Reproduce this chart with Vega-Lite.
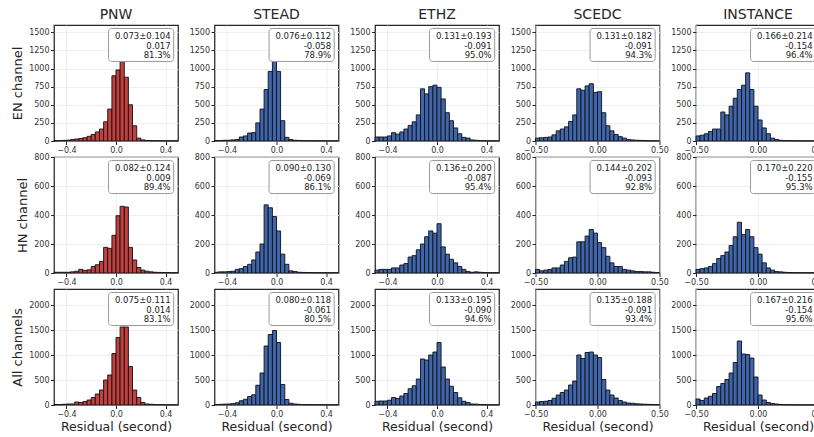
{
"$schema": "https://vega.github.io/schema/vega-lite/v6.json",
"padding": {"left": 11, "top": 7, "right": 0, "bottom": 2},
"bounds": "flush",
"columns": 5,
"spacing": {"row": 16, "column": 36.5},
"config": {
 "font": "DejaVu Sans",
 "view": {"stroke": "#262626", "strokeWidth": 1.25},
 "axis": {"domain": false, "grid": true, "gridColor": "#ebebeb", "gridWidth": 0.8, "tickColor": "#262626", "tickSize": 3.5, "tickWidth": 1, "labelFontSize": 8, "labelColor": "#333333", "labelPadding": 1.5, "titleFontSize": 13, "titleFontWeight": "normal", "titleColor": "#262626", "labelFlush": false, "labelOverlap": false},
 "axisY": {"titlePadding": 4},
 "axisX": {"titlePadding": 2, "titleFontSize": 12.5},
 "title": {"fontSize": 14, "fontWeight": "normal", "offset": 3, "color": "#262626"},
 "text": {"color": "#222222"}
},
"datasets": {
"s": [
{"d":"PNW","r":"EN","t":["0.073±0.104","0.017","81.3%"]},
{"d":"PNW","r":"HN","t":["0.082±0.124","0.009","89.4%"]},
{"d":"PNW","r":"All","t":["0.075±0.111","0.014","83.1%"]},
{"d":"STEAD","r":"EN","t":["0.076±0.112","-0.058","78.9%"]},
{"d":"STEAD","r":"HN","t":["0.090±0.130","-0.069","86.1%"]},
{"d":"STEAD","r":"All","t":["0.080±0.118","-0.061","80.5%"]},
{"d":"ETHZ","r":"EN","t":["0.131±0.193","-0.091","95.0%"]},
{"d":"ETHZ","r":"HN","t":["0.136±0.200","-0.087","95.4%"]},
{"d":"ETHZ","r":"All","t":["0.133±0.195","-0.090","94.6%"]},
{"d":"SCEDC","r":"EN","t":["0.131±0.182","-0.091","94.3%"]},
{"d":"SCEDC","r":"HN","t":["0.144±0.202","-0.093","92.8%"]},
{"d":"SCEDC","r":"All","t":["0.135±0.188","-0.091","93.4%"]},
{"d":"INSTANCE","r":"EN","t":["0.166±0.214","-0.154","96.4%"]},
{"d":"INSTANCE","r":"HN","t":["0.170±0.220","-0.155","95.3%"]},
{"d":"INSTANCE","r":"All","t":["0.167±0.216","-0.154","95.6%"]}
],
"h": [
{"d":"PNW","r":"EN","a":-0.5,"b":-0.467,"n":3},
{"d":"PNW","r":"EN","a":-0.467,"b":-0.433,"n":5},
{"d":"PNW","r":"EN","a":-0.433,"b":-0.4,"n":8},
{"d":"PNW","r":"EN","a":-0.4,"b":-0.367,"n":12},
{"d":"PNW","r":"EN","a":-0.367,"b":-0.333,"n":20},
{"d":"PNW","r":"EN","a":-0.333,"b":-0.3,"n":28},
{"d":"PNW","r":"EN","a":-0.3,"b":-0.267,"n":35},
{"d":"PNW","r":"EN","a":-0.267,"b":-0.233,"n":45},
{"d":"PNW","r":"EN","a":-0.233,"b":-0.2,"n":65},
{"d":"PNW","r":"EN","a":-0.2,"b":-0.167,"n":90},
{"d":"PNW","r":"EN","a":-0.167,"b":-0.133,"n":125},
{"d":"PNW","r":"EN","a":-0.133,"b":-0.1,"n":165},
{"d":"PNW","r":"EN","a":-0.1,"b":-0.067,"n":265},
{"d":"PNW","r":"EN","a":-0.067,"b":-0.033,"n":440},
{"d":"PNW","r":"EN","a":-0.033,"b":0,"n":900},
{"d":"PNW","r":"EN","a":0,"b":0.033,"n":980},
{"d":"PNW","r":"EN","a":0.033,"b":0.067,"n":1100},
{"d":"PNW","r":"EN","a":0.067,"b":0.1,"n":880},
{"d":"PNW","r":"EN","a":0.1,"b":0.133,"n":500},
{"d":"PNW","r":"EN","a":0.133,"b":0.167,"n":210},
{"d":"PNW","r":"EN","a":0.167,"b":0.2,"n":40},
{"d":"PNW","r":"EN","a":0.2,"b":0.233,"n":15},
{"d":"PNW","r":"EN","a":0.233,"b":0.267,"n":8},
{"d":"PNW","r":"EN","a":0.267,"b":0.3,"n":5},
{"d":"PNW","r":"EN","a":0.3,"b":0.333,"n":4},
{"d":"PNW","r":"EN","a":0.333,"b":0.367,"n":3},
{"d":"PNW","r":"EN","a":0.367,"b":0.4,"n":3},
{"d":"PNW","r":"EN","a":0.4,"b":0.433,"n":2},
{"d":"PNW","r":"EN","a":0.433,"b":0.467,"n":2},
{"d":"PNW","r":"EN","a":0.467,"b":0.5,"n":2},
{"d":"PNW","r":"HN","a":-0.5,"b":-0.467,"n":5},
{"d":"PNW","r":"HN","a":-0.467,"b":-0.433,"n":5},
{"d":"PNW","r":"HN","a":-0.433,"b":-0.4,"n":5},
{"d":"PNW","r":"HN","a":-0.4,"b":-0.367,"n":5},
{"d":"PNW","r":"HN","a":-0.367,"b":-0.333,"n":8},
{"d":"PNW","r":"HN","a":-0.333,"b":-0.3,"n":12},
{"d":"PNW","r":"HN","a":-0.3,"b":-0.267,"n":25},
{"d":"PNW","r":"HN","a":-0.267,"b":-0.233,"n":18},
{"d":"PNW","r":"HN","a":-0.233,"b":-0.2,"n":22},
{"d":"PNW","r":"HN","a":-0.2,"b":-0.167,"n":45},
{"d":"PNW","r":"HN","a":-0.167,"b":-0.133,"n":57},
{"d":"PNW","r":"HN","a":-0.133,"b":-0.1,"n":80},
{"d":"PNW","r":"HN","a":-0.1,"b":-0.067,"n":177},
{"d":"PNW","r":"HN","a":-0.067,"b":-0.033,"n":170},
{"d":"PNW","r":"HN","a":-0.033,"b":0,"n":260},
{"d":"PNW","r":"HN","a":0,"b":0.033,"n":395},
{"d":"PNW","r":"HN","a":0.033,"b":0.067,"n":460},
{"d":"PNW","r":"HN","a":0.067,"b":0.1,"n":455},
{"d":"PNW","r":"HN","a":0.1,"b":0.133,"n":177},
{"d":"PNW","r":"HN","a":0.133,"b":0.167,"n":90},
{"d":"PNW","r":"HN","a":0.167,"b":0.2,"n":38},
{"d":"PNW","r":"HN","a":0.2,"b":0.233,"n":20},
{"d":"PNW","r":"HN","a":0.233,"b":0.267,"n":12},
{"d":"PNW","r":"HN","a":0.267,"b":0.3,"n":8},
{"d":"PNW","r":"HN","a":0.3,"b":0.333,"n":5},
{"d":"PNW","r":"HN","a":0.333,"b":0.367,"n":4},
{"d":"PNW","r":"HN","a":0.367,"b":0.4,"n":3},
{"d":"PNW","r":"HN","a":0.4,"b":0.433,"n":3},
{"d":"PNW","r":"HN","a":0.433,"b":0.467,"n":2},
{"d":"PNW","r":"HN","a":0.467,"b":0.5,"n":2},
{"d":"PNW","r":"All","a":-0.5,"b":-0.467,"n":10},
{"d":"PNW","r":"All","a":-0.467,"b":-0.433,"n":10},
{"d":"PNW","r":"All","a":-0.433,"b":-0.4,"n":15},
{"d":"PNW","r":"All","a":-0.4,"b":-0.367,"n":20},
{"d":"PNW","r":"All","a":-0.367,"b":-0.333,"n":20},
{"d":"PNW","r":"All","a":-0.333,"b":-0.3,"n":60},
{"d":"PNW","r":"All","a":-0.3,"b":-0.267,"n":50},
{"d":"PNW","r":"All","a":-0.267,"b":-0.233,"n":70},
{"d":"PNW","r":"All","a":-0.233,"b":-0.2,"n":100},
{"d":"PNW","r":"All","a":-0.2,"b":-0.167,"n":150},
{"d":"PNW","r":"All","a":-0.167,"b":-0.133,"n":220},
{"d":"PNW","r":"All","a":-0.133,"b":-0.1,"n":300},
{"d":"PNW","r":"All","a":-0.1,"b":-0.067,"n":500},
{"d":"PNW","r":"All","a":-0.067,"b":-0.033,"n":600},
{"d":"PNW","r":"All","a":-0.033,"b":0,"n":1030},
{"d":"PNW","r":"All","a":0,"b":0.033,"n":1350},
{"d":"PNW","r":"All","a":0.033,"b":0.067,"n":1560},
{"d":"PNW","r":"All","a":0.067,"b":0.1,"n":1560},
{"d":"PNW","r":"All","a":0.1,"b":0.133,"n":770},
{"d":"PNW","r":"All","a":0.133,"b":0.167,"n":300},
{"d":"PNW","r":"All","a":0.167,"b":0.2,"n":150},
{"d":"PNW","r":"All","a":0.2,"b":0.233,"n":50},
{"d":"PNW","r":"All","a":0.233,"b":0.267,"n":20},
{"d":"PNW","r":"All","a":0.267,"b":0.3,"n":15},
{"d":"PNW","r":"All","a":0.3,"b":0.333,"n":10},
{"d":"PNW","r":"All","a":0.333,"b":0.367,"n":8},
{"d":"PNW","r":"All","a":0.367,"b":0.4,"n":6},
{"d":"PNW","r":"All","a":0.4,"b":0.433,"n":5},
{"d":"PNW","r":"All","a":0.433,"b":0.467,"n":4},
{"d":"PNW","r":"All","a":0.467,"b":0.5,"n":4},
{"d":"STEAD","r":"EN","a":-0.5,"b":-0.467,"n":5},
{"d":"STEAD","r":"EN","a":-0.467,"b":-0.433,"n":5},
{"d":"STEAD","r":"EN","a":-0.433,"b":-0.4,"n":10},
{"d":"STEAD","r":"EN","a":-0.4,"b":-0.367,"n":10},
{"d":"STEAD","r":"EN","a":-0.367,"b":-0.333,"n":15},
{"d":"STEAD","r":"EN","a":-0.333,"b":-0.3,"n":20},
{"d":"STEAD","r":"EN","a":-0.3,"b":-0.267,"n":55},
{"d":"STEAD","r":"EN","a":-0.267,"b":-0.233,"n":70},
{"d":"STEAD","r":"EN","a":-0.233,"b":-0.2,"n":110},
{"d":"STEAD","r":"EN","a":-0.2,"b":-0.167,"n":115},
{"d":"STEAD","r":"EN","a":-0.167,"b":-0.133,"n":250},
{"d":"STEAD","r":"EN","a":-0.133,"b":-0.1,"n":440},
{"d":"STEAD","r":"EN","a":-0.1,"b":-0.067,"n":710},
{"d":"STEAD","r":"EN","a":-0.067,"b":-0.033,"n":960},
{"d":"STEAD","r":"EN","a":-0.033,"b":0,"n":1100},
{"d":"STEAD","r":"EN","a":0,"b":0.033,"n":960},
{"d":"STEAD","r":"EN","a":0.033,"b":0.067,"n":280},
{"d":"STEAD","r":"EN","a":0.067,"b":0.1,"n":50},
{"d":"STEAD","r":"EN","a":0.1,"b":0.133,"n":20},
{"d":"STEAD","r":"EN","a":0.133,"b":0.167,"n":10},
{"d":"STEAD","r":"EN","a":0.167,"b":0.2,"n":8},
{"d":"STEAD","r":"EN","a":0.2,"b":0.233,"n":5},
{"d":"STEAD","r":"EN","a":0.233,"b":0.267,"n":4},
{"d":"STEAD","r":"EN","a":0.267,"b":0.3,"n":3},
{"d":"STEAD","r":"EN","a":0.3,"b":0.333,"n":3},
{"d":"STEAD","r":"EN","a":0.333,"b":0.367,"n":2},
{"d":"STEAD","r":"EN","a":0.367,"b":0.4,"n":2},
{"d":"STEAD","r":"EN","a":0.4,"b":0.433,"n":2},
{"d":"STEAD","r":"EN","a":0.433,"b":0.467,"n":2},
{"d":"STEAD","r":"EN","a":0.467,"b":0.5,"n":2},
{"d":"STEAD","r":"HN","a":-0.5,"b":-0.467,"n":5},
{"d":"STEAD","r":"HN","a":-0.467,"b":-0.433,"n":8},
{"d":"STEAD","r":"HN","a":-0.433,"b":-0.4,"n":8},
{"d":"STEAD","r":"HN","a":-0.4,"b":-0.367,"n":10},
{"d":"STEAD","r":"HN","a":-0.367,"b":-0.333,"n":12},
{"d":"STEAD","r":"HN","a":-0.333,"b":-0.3,"n":25},
{"d":"STEAD","r":"HN","a":-0.3,"b":-0.267,"n":30},
{"d":"STEAD","r":"HN","a":-0.267,"b":-0.233,"n":45},
{"d":"STEAD","r":"HN","a":-0.233,"b":-0.2,"n":60},
{"d":"STEAD","r":"HN","a":-0.2,"b":-0.167,"n":90},
{"d":"STEAD","r":"HN","a":-0.167,"b":-0.133,"n":145},
{"d":"STEAD","r":"HN","a":-0.133,"b":-0.1,"n":200},
{"d":"STEAD","r":"HN","a":-0.1,"b":-0.067,"n":470},
{"d":"STEAD","r":"HN","a":-0.067,"b":-0.033,"n":450},
{"d":"STEAD","r":"HN","a":-0.033,"b":0,"n":390},
{"d":"STEAD","r":"HN","a":0,"b":0.033,"n":290},
{"d":"STEAD","r":"HN","a":0.033,"b":0.067,"n":130},
{"d":"STEAD","r":"HN","a":0.067,"b":0.1,"n":60},
{"d":"STEAD","r":"HN","a":0.1,"b":0.133,"n":15},
{"d":"STEAD","r":"HN","a":0.133,"b":0.167,"n":10},
{"d":"STEAD","r":"HN","a":0.167,"b":0.2,"n":5},
{"d":"STEAD","r":"HN","a":0.2,"b":0.233,"n":4},
{"d":"STEAD","r":"HN","a":0.233,"b":0.267,"n":3},
{"d":"STEAD","r":"HN","a":0.267,"b":0.3,"n":3},
{"d":"STEAD","r":"HN","a":0.3,"b":0.333,"n":2},
{"d":"STEAD","r":"HN","a":0.333,"b":0.367,"n":2},
{"d":"STEAD","r":"HN","a":0.367,"b":0.4,"n":2},
{"d":"STEAD","r":"HN","a":0.4,"b":0.433,"n":2},
{"d":"STEAD","r":"HN","a":0.433,"b":0.467,"n":2},
{"d":"STEAD","r":"HN","a":0.467,"b":0.5,"n":2},
{"d":"STEAD","r":"All","a":-0.5,"b":-0.467,"n":10},
{"d":"STEAD","r":"All","a":-0.467,"b":-0.433,"n":13},
{"d":"STEAD","r":"All","a":-0.433,"b":-0.4,"n":18},
{"d":"STEAD","r":"All","a":-0.4,"b":-0.367,"n":20},
{"d":"STEAD","r":"All","a":-0.367,"b":-0.333,"n":27},
{"d":"STEAD","r":"All","a":-0.333,"b":-0.3,"n":45},
{"d":"STEAD","r":"All","a":-0.3,"b":-0.267,"n":85},
{"d":"STEAD","r":"All","a":-0.267,"b":-0.233,"n":115},
{"d":"STEAD","r":"All","a":-0.233,"b":-0.2,"n":170},
{"d":"STEAD","r":"All","a":-0.2,"b":-0.167,"n":205},
{"d":"STEAD","r":"All","a":-0.167,"b":-0.133,"n":395},
{"d":"STEAD","r":"All","a":-0.133,"b":-0.1,"n":640},
{"d":"STEAD","r":"All","a":-0.1,"b":-0.067,"n":1180},
{"d":"STEAD","r":"All","a":-0.067,"b":-0.033,"n":1410},
{"d":"STEAD","r":"All","a":-0.033,"b":0,"n":1490},
{"d":"STEAD","r":"All","a":0,"b":0.033,"n":1250},
{"d":"STEAD","r":"All","a":0.033,"b":0.067,"n":410},
{"d":"STEAD","r":"All","a":0.067,"b":0.1,"n":110},
{"d":"STEAD","r":"All","a":0.1,"b":0.133,"n":35},
{"d":"STEAD","r":"All","a":0.133,"b":0.167,"n":20},
{"d":"STEAD","r":"All","a":0.167,"b":0.2,"n":13},
{"d":"STEAD","r":"All","a":0.2,"b":0.233,"n":9},
{"d":"STEAD","r":"All","a":0.233,"b":0.267,"n":7},
{"d":"STEAD","r":"All","a":0.267,"b":0.3,"n":6},
{"d":"STEAD","r":"All","a":0.3,"b":0.333,"n":5},
{"d":"STEAD","r":"All","a":0.333,"b":0.367,"n":4},
{"d":"STEAD","r":"All","a":0.367,"b":0.4,"n":4},
{"d":"STEAD","r":"All","a":0.4,"b":0.433,"n":4},
{"d":"STEAD","r":"All","a":0.433,"b":0.467,"n":4},
{"d":"STEAD","r":"All","a":0.467,"b":0.5,"n":4},
{"d":"ETHZ","r":"EN","a":-0.5,"b":-0.467,"n":55},
{"d":"ETHZ","r":"EN","a":-0.467,"b":-0.433,"n":55},
{"d":"ETHZ","r":"EN","a":-0.433,"b":-0.4,"n":55},
{"d":"ETHZ","r":"EN","a":-0.4,"b":-0.367,"n":70},
{"d":"ETHZ","r":"EN","a":-0.367,"b":-0.333,"n":115},
{"d":"ETHZ","r":"EN","a":-0.333,"b":-0.3,"n":95},
{"d":"ETHZ","r":"EN","a":-0.3,"b":-0.267,"n":125},
{"d":"ETHZ","r":"EN","a":-0.267,"b":-0.233,"n":165},
{"d":"ETHZ","r":"EN","a":-0.233,"b":-0.2,"n":215},
{"d":"ETHZ","r":"EN","a":-0.2,"b":-0.167,"n":265},
{"d":"ETHZ","r":"EN","a":-0.167,"b":-0.133,"n":360},
{"d":"ETHZ","r":"EN","a":-0.133,"b":-0.1,"n":720},
{"d":"ETHZ","r":"EN","a":-0.1,"b":-0.067,"n":650},
{"d":"ETHZ","r":"EN","a":-0.067,"b":-0.033,"n":750},
{"d":"ETHZ","r":"EN","a":-0.033,"b":0,"n":770},
{"d":"ETHZ","r":"EN","a":0,"b":0.033,"n":740},
{"d":"ETHZ","r":"EN","a":0.033,"b":0.067,"n":580},
{"d":"ETHZ","r":"EN","a":0.067,"b":0.1,"n":390},
{"d":"ETHZ","r":"EN","a":0.1,"b":0.133,"n":280},
{"d":"ETHZ","r":"EN","a":0.133,"b":0.167,"n":180},
{"d":"ETHZ","r":"EN","a":0.167,"b":0.2,"n":100},
{"d":"ETHZ","r":"EN","a":0.2,"b":0.233,"n":50},
{"d":"ETHZ","r":"EN","a":0.233,"b":0.267,"n":40},
{"d":"ETHZ","r":"EN","a":0.267,"b":0.3,"n":15},
{"d":"ETHZ","r":"EN","a":0.3,"b":0.333,"n":10},
{"d":"ETHZ","r":"EN","a":0.333,"b":0.367,"n":5},
{"d":"ETHZ","r":"EN","a":0.367,"b":0.4,"n":3},
{"d":"ETHZ","r":"EN","a":0.4,"b":0.433,"n":2},
{"d":"ETHZ","r":"EN","a":0.433,"b":0.467,"n":2},
{"d":"ETHZ","r":"EN","a":0.467,"b":0.5,"n":2},
{"d":"ETHZ","r":"HN","a":-0.5,"b":-0.467,"n":20},
{"d":"ETHZ","r":"HN","a":-0.467,"b":-0.433,"n":25},
{"d":"ETHZ","r":"HN","a":-0.433,"b":-0.4,"n":25},
{"d":"ETHZ","r":"HN","a":-0.4,"b":-0.367,"n":25},
{"d":"ETHZ","r":"HN","a":-0.367,"b":-0.333,"n":35},
{"d":"ETHZ","r":"HN","a":-0.333,"b":-0.3,"n":35},
{"d":"ETHZ","r":"HN","a":-0.3,"b":-0.267,"n":55},
{"d":"ETHZ","r":"HN","a":-0.267,"b":-0.233,"n":65},
{"d":"ETHZ","r":"HN","a":-0.233,"b":-0.2,"n":110},
{"d":"ETHZ","r":"HN","a":-0.2,"b":-0.167,"n":120},
{"d":"ETHZ","r":"HN","a":-0.167,"b":-0.133,"n":160},
{"d":"ETHZ","r":"HN","a":-0.133,"b":-0.1,"n":200},
{"d":"ETHZ","r":"HN","a":-0.1,"b":-0.067,"n":250},
{"d":"ETHZ","r":"HN","a":-0.067,"b":-0.033,"n":290},
{"d":"ETHZ","r":"HN","a":-0.033,"b":0,"n":275},
{"d":"ETHZ","r":"HN","a":0,"b":0.033,"n":340},
{"d":"ETHZ","r":"HN","a":0.033,"b":0.067,"n":180},
{"d":"ETHZ","r":"HN","a":0.067,"b":0.1,"n":130},
{"d":"ETHZ","r":"HN","a":0.1,"b":0.133,"n":95},
{"d":"ETHZ","r":"HN","a":0.133,"b":0.167,"n":70},
{"d":"ETHZ","r":"HN","a":0.167,"b":0.2,"n":45},
{"d":"ETHZ","r":"HN","a":0.2,"b":0.233,"n":25},
{"d":"ETHZ","r":"HN","a":0.233,"b":0.267,"n":10},
{"d":"ETHZ","r":"HN","a":0.267,"b":0.3,"n":5},
{"d":"ETHZ","r":"HN","a":0.3,"b":0.333,"n":8},
{"d":"ETHZ","r":"HN","a":0.333,"b":0.367,"n":5},
{"d":"ETHZ","r":"HN","a":0.367,"b":0.4,"n":3},
{"d":"ETHZ","r":"HN","a":0.4,"b":0.433,"n":2},
{"d":"ETHZ","r":"HN","a":0.433,"b":0.467,"n":2},
{"d":"ETHZ","r":"HN","a":0.467,"b":0.5,"n":2},
{"d":"ETHZ","r":"All","a":-0.5,"b":-0.467,"n":75},
{"d":"ETHZ","r":"All","a":-0.467,"b":-0.433,"n":80},
{"d":"ETHZ","r":"All","a":-0.433,"b":-0.4,"n":80},
{"d":"ETHZ","r":"All","a":-0.4,"b":-0.367,"n":95},
{"d":"ETHZ","r":"All","a":-0.367,"b":-0.333,"n":150},
{"d":"ETHZ","r":"All","a":-0.333,"b":-0.3,"n":130},
{"d":"ETHZ","r":"All","a":-0.3,"b":-0.267,"n":180},
{"d":"ETHZ","r":"All","a":-0.267,"b":-0.233,"n":230},
{"d":"ETHZ","r":"All","a":-0.233,"b":-0.2,"n":325},
{"d":"ETHZ","r":"All","a":-0.2,"b":-0.167,"n":385},
{"d":"ETHZ","r":"All","a":-0.167,"b":-0.133,"n":520},
{"d":"ETHZ","r":"All","a":-0.133,"b":-0.1,"n":920},
{"d":"ETHZ","r":"All","a":-0.1,"b":-0.067,"n":900},
{"d":"ETHZ","r":"All","a":-0.067,"b":-0.033,"n":1000},
{"d":"ETHZ","r":"All","a":-0.033,"b":0,"n":1060},
{"d":"ETHZ","r":"All","a":0,"b":0.033,"n":1250},
{"d":"ETHZ","r":"All","a":0.033,"b":0.067,"n":760},
{"d":"ETHZ","r":"All","a":0.067,"b":0.1,"n":520},
{"d":"ETHZ","r":"All","a":0.1,"b":0.133,"n":375},
{"d":"ETHZ","r":"All","a":0.133,"b":0.167,"n":250},
{"d":"ETHZ","r":"All","a":0.167,"b":0.2,"n":145},
{"d":"ETHZ","r":"All","a":0.2,"b":0.233,"n":75},
{"d":"ETHZ","r":"All","a":0.233,"b":0.267,"n":50},
{"d":"ETHZ","r":"All","a":0.267,"b":0.3,"n":20},
{"d":"ETHZ","r":"All","a":0.3,"b":0.333,"n":18},
{"d":"ETHZ","r":"All","a":0.333,"b":0.367,"n":10},
{"d":"ETHZ","r":"All","a":0.367,"b":0.4,"n":6},
{"d":"ETHZ","r":"All","a":0.4,"b":0.433,"n":4},
{"d":"ETHZ","r":"All","a":0.433,"b":0.467,"n":4},
{"d":"ETHZ","r":"All","a":0.467,"b":0.5,"n":4},
{"d":"SCEDC","r":"EN","a":-0.5,"b":-0.467,"n":40},
{"d":"SCEDC","r":"EN","a":-0.467,"b":-0.433,"n":45},
{"d":"SCEDC","r":"EN","a":-0.433,"b":-0.4,"n":50},
{"d":"SCEDC","r":"EN","a":-0.4,"b":-0.367,"n":55},
{"d":"SCEDC","r":"EN","a":-0.367,"b":-0.333,"n":85},
{"d":"SCEDC","r":"EN","a":-0.333,"b":-0.3,"n":140},
{"d":"SCEDC","r":"EN","a":-0.3,"b":-0.267,"n":165},
{"d":"SCEDC","r":"EN","a":-0.267,"b":-0.233,"n":195},
{"d":"SCEDC","r":"EN","a":-0.233,"b":-0.2,"n":270},
{"d":"SCEDC","r":"EN","a":-0.2,"b":-0.167,"n":360},
{"d":"SCEDC","r":"EN","a":-0.167,"b":-0.133,"n":720},
{"d":"SCEDC","r":"EN","a":-0.133,"b":-0.1,"n":700},
{"d":"SCEDC","r":"EN","a":-0.1,"b":-0.067,"n":760},
{"d":"SCEDC","r":"EN","a":-0.067,"b":-0.033,"n":790},
{"d":"SCEDC","r":"EN","a":-0.033,"b":0,"n":670},
{"d":"SCEDC","r":"EN","a":0,"b":0.033,"n":680},
{"d":"SCEDC","r":"EN","a":0.033,"b":0.067,"n":390},
{"d":"SCEDC","r":"EN","a":0.067,"b":0.1,"n":210},
{"d":"SCEDC","r":"EN","a":0.1,"b":0.133,"n":140},
{"d":"SCEDC","r":"EN","a":0.133,"b":0.167,"n":90},
{"d":"SCEDC","r":"EN","a":0.167,"b":0.2,"n":60},
{"d":"SCEDC","r":"EN","a":0.2,"b":0.233,"n":40},
{"d":"SCEDC","r":"EN","a":0.233,"b":0.267,"n":20},
{"d":"SCEDC","r":"EN","a":0.267,"b":0.3,"n":15},
{"d":"SCEDC","r":"EN","a":0.3,"b":0.333,"n":10},
{"d":"SCEDC","r":"EN","a":0.333,"b":0.367,"n":8},
{"d":"SCEDC","r":"EN","a":0.367,"b":0.4,"n":5},
{"d":"SCEDC","r":"EN","a":0.4,"b":0.433,"n":3},
{"d":"SCEDC","r":"EN","a":0.433,"b":0.467,"n":2},
{"d":"SCEDC","r":"EN","a":0.467,"b":0.5,"n":2},
{"d":"SCEDC","r":"HN","a":-0.5,"b":-0.467,"n":25},
{"d":"SCEDC","r":"HN","a":-0.467,"b":-0.433,"n":15},
{"d":"SCEDC","r":"HN","a":-0.433,"b":-0.4,"n":20},
{"d":"SCEDC","r":"HN","a":-0.4,"b":-0.367,"n":25},
{"d":"SCEDC","r":"HN","a":-0.367,"b":-0.333,"n":35},
{"d":"SCEDC","r":"HN","a":-0.333,"b":-0.3,"n":35},
{"d":"SCEDC","r":"HN","a":-0.3,"b":-0.267,"n":55},
{"d":"SCEDC","r":"HN","a":-0.267,"b":-0.233,"n":80},
{"d":"SCEDC","r":"HN","a":-0.233,"b":-0.2,"n":105},
{"d":"SCEDC","r":"HN","a":-0.2,"b":-0.167,"n":110},
{"d":"SCEDC","r":"HN","a":-0.167,"b":-0.133,"n":215},
{"d":"SCEDC","r":"HN","a":-0.133,"b":-0.1,"n":215},
{"d":"SCEDC","r":"HN","a":-0.1,"b":-0.067,"n":255},
{"d":"SCEDC","r":"HN","a":-0.067,"b":-0.033,"n":300},
{"d":"SCEDC","r":"HN","a":-0.033,"b":0,"n":275},
{"d":"SCEDC","r":"HN","a":0,"b":0.033,"n":210},
{"d":"SCEDC","r":"HN","a":0.033,"b":0.067,"n":175},
{"d":"SCEDC","r":"HN","a":0.067,"b":0.1,"n":115},
{"d":"SCEDC","r":"HN","a":0.1,"b":0.133,"n":70},
{"d":"SCEDC","r":"HN","a":0.133,"b":0.167,"n":45},
{"d":"SCEDC","r":"HN","a":0.167,"b":0.2,"n":45},
{"d":"SCEDC","r":"HN","a":0.2,"b":0.233,"n":25},
{"d":"SCEDC","r":"HN","a":0.233,"b":0.267,"n":20},
{"d":"SCEDC","r":"HN","a":0.267,"b":0.3,"n":15},
{"d":"SCEDC","r":"HN","a":0.3,"b":0.333,"n":10},
{"d":"SCEDC","r":"HN","a":0.333,"b":0.367,"n":10},
{"d":"SCEDC","r":"HN","a":0.367,"b":0.4,"n":8},
{"d":"SCEDC","r":"HN","a":0.4,"b":0.433,"n":8},
{"d":"SCEDC","r":"HN","a":0.433,"b":0.467,"n":5},
{"d":"SCEDC","r":"HN","a":0.467,"b":0.5,"n":3},
{"d":"SCEDC","r":"All","a":-0.5,"b":-0.467,"n":60},
{"d":"SCEDC","r":"All","a":-0.467,"b":-0.433,"n":70},
{"d":"SCEDC","r":"All","a":-0.433,"b":-0.4,"n":75},
{"d":"SCEDC","r":"All","a":-0.4,"b":-0.367,"n":90},
{"d":"SCEDC","r":"All","a":-0.367,"b":-0.333,"n":135},
{"d":"SCEDC","r":"All","a":-0.333,"b":-0.3,"n":200},
{"d":"SCEDC","r":"All","a":-0.3,"b":-0.267,"n":250},
{"d":"SCEDC","r":"All","a":-0.267,"b":-0.233,"n":300},
{"d":"SCEDC","r":"All","a":-0.233,"b":-0.2,"n":400},
{"d":"SCEDC","r":"All","a":-0.2,"b":-0.167,"n":480},
{"d":"SCEDC","r":"All","a":-0.167,"b":-0.133,"n":1000},
{"d":"SCEDC","r":"All","a":-0.133,"b":-0.1,"n":930},
{"d":"SCEDC","r":"All","a":-0.1,"b":-0.067,"n":1050},
{"d":"SCEDC","r":"All","a":-0.067,"b":-0.033,"n":1060},
{"d":"SCEDC","r":"All","a":-0.033,"b":0,"n":1000},
{"d":"SCEDC","r":"All","a":0,"b":0.033,"n":950},
{"d":"SCEDC","r":"All","a":0.033,"b":0.067,"n":510},
{"d":"SCEDC","r":"All","a":0.067,"b":0.1,"n":300},
{"d":"SCEDC","r":"All","a":0.1,"b":0.133,"n":200},
{"d":"SCEDC","r":"All","a":0.133,"b":0.167,"n":140},
{"d":"SCEDC","r":"All","a":0.167,"b":0.2,"n":90},
{"d":"SCEDC","r":"All","a":0.2,"b":0.233,"n":60},
{"d":"SCEDC","r":"All","a":0.233,"b":0.267,"n":40},
{"d":"SCEDC","r":"All","a":0.267,"b":0.3,"n":35},
{"d":"SCEDC","r":"All","a":0.3,"b":0.333,"n":25},
{"d":"SCEDC","r":"All","a":0.333,"b":0.367,"n":20},
{"d":"SCEDC","r":"All","a":0.367,"b":0.4,"n":15},
{"d":"SCEDC","r":"All","a":0.4,"b":0.433,"n":12},
{"d":"SCEDC","r":"All","a":0.433,"b":0.467,"n":10},
{"d":"SCEDC","r":"All","a":0.467,"b":0.5,"n":8},
{"d":"INSTANCE","r":"EN","a":-0.5,"b":-0.467,"n":70},
{"d":"INSTANCE","r":"EN","a":-0.467,"b":-0.433,"n":80},
{"d":"INSTANCE","r":"EN","a":-0.433,"b":-0.4,"n":100},
{"d":"INSTANCE","r":"EN","a":-0.4,"b":-0.367,"n":130},
{"d":"INSTANCE","r":"EN","a":-0.367,"b":-0.333,"n":165},
{"d":"INSTANCE","r":"EN","a":-0.333,"b":-0.3,"n":165},
{"d":"INSTANCE","r":"EN","a":-0.3,"b":-0.267,"n":400},
{"d":"INSTANCE","r":"EN","a":-0.267,"b":-0.233,"n":360},
{"d":"INSTANCE","r":"EN","a":-0.233,"b":-0.2,"n":480},
{"d":"INSTANCE","r":"EN","a":-0.2,"b":-0.167,"n":590},
{"d":"INSTANCE","r":"EN","a":-0.167,"b":-0.133,"n":710},
{"d":"INSTANCE","r":"EN","a":-0.133,"b":-0.1,"n":770},
{"d":"INSTANCE","r":"EN","a":-0.1,"b":-0.067,"n":940},
{"d":"INSTANCE","r":"EN","a":-0.067,"b":-0.033,"n":710},
{"d":"INSTANCE","r":"EN","a":-0.033,"b":0,"n":480},
{"d":"INSTANCE","r":"EN","a":0,"b":0.033,"n":290},
{"d":"INSTANCE","r":"EN","a":0.033,"b":0.067,"n":180},
{"d":"INSTANCE","r":"EN","a":0.067,"b":0.1,"n":100},
{"d":"INSTANCE","r":"EN","a":0.1,"b":0.133,"n":40},
{"d":"INSTANCE","r":"EN","a":0.133,"b":0.167,"n":20},
{"d":"INSTANCE","r":"EN","a":0.167,"b":0.2,"n":10},
{"d":"INSTANCE","r":"EN","a":0.2,"b":0.233,"n":5},
{"d":"INSTANCE","r":"EN","a":0.233,"b":0.267,"n":5},
{"d":"INSTANCE","r":"EN","a":0.267,"b":0.3,"n":3},
{"d":"INSTANCE","r":"EN","a":0.3,"b":0.333,"n":3},
{"d":"INSTANCE","r":"EN","a":0.333,"b":0.367,"n":2},
{"d":"INSTANCE","r":"EN","a":0.367,"b":0.4,"n":2},
{"d":"INSTANCE","r":"EN","a":0.4,"b":0.433,"n":2},
{"d":"INSTANCE","r":"EN","a":0.433,"b":0.467,"n":2},
{"d":"INSTANCE","r":"EN","a":0.467,"b":0.5,"n":2},
{"d":"INSTANCE","r":"HN","a":-0.5,"b":-0.467,"n":25},
{"d":"INSTANCE","r":"HN","a":-0.467,"b":-0.433,"n":30},
{"d":"INSTANCE","r":"HN","a":-0.433,"b":-0.4,"n":35},
{"d":"INSTANCE","r":"HN","a":-0.4,"b":-0.367,"n":45},
{"d":"INSTANCE","r":"HN","a":-0.367,"b":-0.333,"n":65},
{"d":"INSTANCE","r":"HN","a":-0.333,"b":-0.3,"n":100},
{"d":"INSTANCE","r":"HN","a":-0.3,"b":-0.267,"n":120},
{"d":"INSTANCE","r":"HN","a":-0.267,"b":-0.233,"n":145},
{"d":"INSTANCE","r":"HN","a":-0.233,"b":-0.2,"n":190},
{"d":"INSTANCE","r":"HN","a":-0.2,"b":-0.167,"n":250},
{"d":"INSTANCE","r":"HN","a":-0.167,"b":-0.133,"n":350},
{"d":"INSTANCE","r":"HN","a":-0.133,"b":-0.1,"n":265},
{"d":"INSTANCE","r":"HN","a":-0.1,"b":-0.067,"n":300},
{"d":"INSTANCE","r":"HN","a":-0.067,"b":-0.033,"n":250},
{"d":"INSTANCE","r":"HN","a":-0.033,"b":0,"n":175},
{"d":"INSTANCE","r":"HN","a":0,"b":0.033,"n":130},
{"d":"INSTANCE","r":"HN","a":0.033,"b":0.067,"n":70},
{"d":"INSTANCE","r":"HN","a":0.067,"b":0.1,"n":35},
{"d":"INSTANCE","r":"HN","a":0.1,"b":0.133,"n":20},
{"d":"INSTANCE","r":"HN","a":0.133,"b":0.167,"n":10},
{"d":"INSTANCE","r":"HN","a":0.167,"b":0.2,"n":8},
{"d":"INSTANCE","r":"HN","a":0.2,"b":0.233,"n":5},
{"d":"INSTANCE","r":"HN","a":0.233,"b":0.267,"n":3},
{"d":"INSTANCE","r":"HN","a":0.267,"b":0.3,"n":3},
{"d":"INSTANCE","r":"HN","a":0.3,"b":0.333,"n":2},
{"d":"INSTANCE","r":"HN","a":0.333,"b":0.367,"n":2},
{"d":"INSTANCE","r":"HN","a":0.367,"b":0.4,"n":2},
{"d":"INSTANCE","r":"HN","a":0.4,"b":0.433,"n":2},
{"d":"INSTANCE","r":"HN","a":0.433,"b":0.467,"n":2},
{"d":"INSTANCE","r":"HN","a":0.467,"b":0.5,"n":2},
{"d":"INSTANCE","r":"All","a":-0.5,"b":-0.467,"n":120},
{"d":"INSTANCE","r":"All","a":-0.467,"b":-0.433,"n":90},
{"d":"INSTANCE","r":"All","a":-0.433,"b":-0.4,"n":140},
{"d":"INSTANCE","r":"All","a":-0.4,"b":-0.367,"n":175},
{"d":"INSTANCE","r":"All","a":-0.367,"b":-0.333,"n":230},
{"d":"INSTANCE","r":"All","a":-0.333,"b":-0.3,"n":370},
{"d":"INSTANCE","r":"All","a":-0.3,"b":-0.267,"n":430},
{"d":"INSTANCE","r":"All","a":-0.267,"b":-0.233,"n":510},
{"d":"INSTANCE","r":"All","a":-0.233,"b":-0.2,"n":640},
{"d":"INSTANCE","r":"All","a":-0.2,"b":-0.167,"n":850},
{"d":"INSTANCE","r":"All","a":-0.167,"b":-0.133,"n":1280},
{"d":"INSTANCE","r":"All","a":-0.133,"b":-0.1,"n":1020},
{"d":"INSTANCE","r":"All","a":-0.1,"b":-0.067,"n":1010},
{"d":"INSTANCE","r":"All","a":-0.067,"b":-0.033,"n":940},
{"d":"INSTANCE","r":"All","a":-0.033,"b":0,"n":560},
{"d":"INSTANCE","r":"All","a":0,"b":0.033,"n":200},
{"d":"INSTANCE","r":"All","a":0.033,"b":0.067,"n":100},
{"d":"INSTANCE","r":"All","a":0.067,"b":0.1,"n":50},
{"d":"INSTANCE","r":"All","a":0.1,"b":0.133,"n":30},
{"d":"INSTANCE","r":"All","a":0.133,"b":0.167,"n":20},
{"d":"INSTANCE","r":"All","a":0.167,"b":0.2,"n":10},
{"d":"INSTANCE","r":"All","a":0.2,"b":0.233,"n":8},
{"d":"INSTANCE","r":"All","a":0.233,"b":0.267,"n":5},
{"d":"INSTANCE","r":"All","a":0.267,"b":0.3,"n":4},
{"d":"INSTANCE","r":"All","a":0.3,"b":0.333,"n":3},
{"d":"INSTANCE","r":"All","a":0.333,"b":0.367,"n":3},
{"d":"INSTANCE","r":"All","a":0.367,"b":0.4,"n":2},
{"d":"INSTANCE","r":"All","a":0.4,"b":0.433,"n":2},
{"d":"INSTANCE","r":"All","a":0.433,"b":0.467,"n":2},
{"d":"INSTANCE","r":"All","a":0.467,"b":0.5,"n":2}
]
},
"data": {"name": "h"},
"concat": [
 {"width":124,"height":116,"title":"PNW","layer":[
  {"transform":[{"filter":"datum.d=='PNW'&&datum.r=='EN'"}],"mark":{"type":"rect","fill":"#c4403f","stroke":"#111111","strokeWidth":0.9},"encoding":{"x":{"field":"a","type":"quantitative","scale":{"domain":[-0.5,0.5],"nice":false},"axis":{"values":[-0.4,-0.2,0,0.2,0.4],"format":".1f","title":null}},"x2":{"field":"b"},"y":{"field":"n","type":"quantitative","scale":{"domain":[0,1600],"nice":false},"axis":{"values":[0,250,500,750,1000,1250,1500],"format":"d","labelOverlap":false,"title":"EN channel"}},"y2":{"datum":0}}},
  {"data":{"name":"s"},"transform":[{"filter":"datum.d=='PNW'&&datum.r=='EN'"}],"mark":{"type":"rect","fill":"white","stroke":"#999999","strokeWidth":1,"cornerRadius":3},"encoding":{"x":{"datum":-0.06},"x2":{"datum":0.465},"y":{"datum":1552,"axis":{"values":[0,250,500,750,1000,1250,1500],"format":"d","labelOverlap":false}},"y2":{"datum":1097}}},
  {"data":{"name":"s"},"transform":[{"filter":"datum.d=='PNW'&&datum.r=='EN'"}],"mark":{"type":"text","align":"right","fontSize":8.5,"lineHeight":9.5},"encoding":{"x":{"datum":0.441},"y":{"datum":1448,"axis":{"values":[0,250,500,750,1000,1250,1500],"format":"d","labelOverlap":false}},"text":{"field":"t"}}}
 ]},
 {"width":124,"height":116,"title":"STEAD","layer":[
  {"transform":[{"filter":"datum.d=='STEAD'&&datum.r=='EN'"}],"mark":{"type":"rect","fill":"#3f66ad","stroke":"#111111","strokeWidth":0.9},"encoding":{"x":{"field":"a","type":"quantitative","scale":{"domain":[-0.5,0.5],"nice":false},"axis":{"values":[-0.4,-0.2,0,0.2,0.4],"format":".1f","title":null}},"x2":{"field":"b"},"y":{"field":"n","type":"quantitative","scale":{"domain":[0,1600],"nice":false},"axis":{"values":[0,250,500,750,1000,1250,1500],"format":"d","labelOverlap":false,"title":null}},"y2":{"datum":0}}},
  {"data":{"name":"s"},"transform":[{"filter":"datum.d=='STEAD'&&datum.r=='EN'"}],"mark":{"type":"rect","fill":"white","stroke":"#999999","strokeWidth":1,"cornerRadius":3},"encoding":{"x":{"datum":-0.06},"x2":{"datum":0.465},"y":{"datum":1552,"axis":{"values":[0,250,500,750,1000,1250,1500],"format":"d","labelOverlap":false}},"y2":{"datum":1097}}},
  {"data":{"name":"s"},"transform":[{"filter":"datum.d=='STEAD'&&datum.r=='EN'"}],"mark":{"type":"text","align":"right","fontSize":8.5,"lineHeight":9.5},"encoding":{"x":{"datum":0.441},"y":{"datum":1448,"axis":{"values":[0,250,500,750,1000,1250,1500],"format":"d","labelOverlap":false}},"text":{"field":"t"}}}
 ]},
 {"width":124,"height":116,"title":"ETHZ","layer":[
  {"transform":[{"filter":"datum.d=='ETHZ'&&datum.r=='EN'"}],"mark":{"type":"rect","fill":"#3f66ad","stroke":"#111111","strokeWidth":0.9},"encoding":{"x":{"field":"a","type":"quantitative","scale":{"domain":[-0.5,0.5],"nice":false},"axis":{"values":[-0.4,-0.2,0,0.2,0.4],"format":".1f","title":null}},"x2":{"field":"b"},"y":{"field":"n","type":"quantitative","scale":{"domain":[0,1600],"nice":false},"axis":{"values":[0,250,500,750,1000,1250,1500],"format":"d","labelOverlap":false,"title":null}},"y2":{"datum":0}}},
  {"data":{"name":"s"},"transform":[{"filter":"datum.d=='ETHZ'&&datum.r=='EN'"}],"mark":{"type":"rect","fill":"white","stroke":"#999999","strokeWidth":1,"cornerRadius":3},"encoding":{"x":{"datum":-0.06},"x2":{"datum":0.465},"y":{"datum":1552,"axis":{"values":[0,250,500,750,1000,1250,1500],"format":"d","labelOverlap":false}},"y2":{"datum":1097}}},
  {"data":{"name":"s"},"transform":[{"filter":"datum.d=='ETHZ'&&datum.r=='EN'"}],"mark":{"type":"text","align":"right","fontSize":8.5,"lineHeight":9.5},"encoding":{"x":{"datum":0.441},"y":{"datum":1448,"axis":{"values":[0,250,500,750,1000,1250,1500],"format":"d","labelOverlap":false}},"text":{"field":"t"}}}
 ]},
 {"width":124,"height":116,"title":"SCEDC","layer":[
  {"transform":[{"filter":"datum.d=='SCEDC'&&datum.r=='EN'"}],"mark":{"type":"rect","fill":"#3f66ad","stroke":"#111111","strokeWidth":0.9},"encoding":{"x":{"field":"a","type":"quantitative","scale":{"domain":[-0.5,0.5],"nice":false},"axis":{"values":[-0.5,-0.25,0,0.25,0.5],"format":".2f","title":null}},"x2":{"field":"b"},"y":{"field":"n","type":"quantitative","scale":{"domain":[0,1600],"nice":false},"axis":{"values":[0,250,500,750,1000,1250,1500],"format":"d","labelOverlap":false,"title":null}},"y2":{"datum":0}}},
  {"data":{"name":"s"},"transform":[{"filter":"datum.d=='SCEDC'&&datum.r=='EN'"}],"mark":{"type":"rect","fill":"white","stroke":"#999999","strokeWidth":1,"cornerRadius":3},"encoding":{"x":{"datum":-0.06},"x2":{"datum":0.465},"y":{"datum":1552,"axis":{"values":[0,250,500,750,1000,1250,1500],"format":"d","labelOverlap":false}},"y2":{"datum":1097}}},
  {"data":{"name":"s"},"transform":[{"filter":"datum.d=='SCEDC'&&datum.r=='EN'"}],"mark":{"type":"text","align":"right","fontSize":8.5,"lineHeight":9.5},"encoding":{"x":{"datum":0.441},"y":{"datum":1448,"axis":{"values":[0,250,500,750,1000,1250,1500],"format":"d","labelOverlap":false}},"text":{"field":"t"}}}
 ]},
 {"width":124,"height":116,"title":"INSTANCE","layer":[
  {"transform":[{"filter":"datum.d=='INSTANCE'&&datum.r=='EN'"}],"mark":{"type":"rect","fill":"#3f66ad","stroke":"#111111","strokeWidth":0.9},"encoding":{"x":{"field":"a","type":"quantitative","scale":{"domain":[-0.5,0.5],"nice":false},"axis":{"values":[-0.5,-0.25,0,0.25,0.5],"format":".2f","title":null}},"x2":{"field":"b"},"y":{"field":"n","type":"quantitative","scale":{"domain":[0,1600],"nice":false},"axis":{"values":[0,250,500,750,1000,1250,1500],"format":"d","labelOverlap":false,"title":null}},"y2":{"datum":0}}},
  {"data":{"name":"s"},"transform":[{"filter":"datum.d=='INSTANCE'&&datum.r=='EN'"}],"mark":{"type":"rect","fill":"white","stroke":"#999999","strokeWidth":1,"cornerRadius":3},"encoding":{"x":{"datum":-0.06},"x2":{"datum":0.465},"y":{"datum":1552,"axis":{"values":[0,250,500,750,1000,1250,1500],"format":"d","labelOverlap":false}},"y2":{"datum":1097}}},
  {"data":{"name":"s"},"transform":[{"filter":"datum.d=='INSTANCE'&&datum.r=='EN'"}],"mark":{"type":"text","align":"right","fontSize":8.5,"lineHeight":9.5},"encoding":{"x":{"datum":0.441},"y":{"datum":1448,"axis":{"values":[0,250,500,750,1000,1250,1500],"format":"d","labelOverlap":false}},"text":{"field":"t"}}}
 ]},
 {"width":124,"height":116,"layer":[
  {"transform":[{"filter":"datum.d=='PNW'&&datum.r=='HN'"}],"mark":{"type":"rect","fill":"#c4403f","stroke":"#111111","strokeWidth":0.9},"encoding":{"x":{"field":"a","type":"quantitative","scale":{"domain":[-0.5,0.5],"nice":false},"axis":{"values":[-0.4,-0.2,0,0.2,0.4],"format":".1f","title":null}},"x2":{"field":"b"},"y":{"field":"n","type":"quantitative","scale":{"domain":[0,800],"nice":false},"axis":{"values":[0,200,400,600,800],"format":"d","labelOverlap":false,"title":"HN channel"}},"y2":{"datum":0}}},
  {"data":{"name":"s"},"transform":[{"filter":"datum.d=='PNW'&&datum.r=='HN'"}],"mark":{"type":"rect","fill":"white","stroke":"#999999","strokeWidth":1,"cornerRadius":3},"encoding":{"x":{"datum":-0.06},"x2":{"datum":0.465},"y":{"datum":776,"axis":{"values":[0,200,400,600,800],"format":"d","labelOverlap":false}},"y2":{"datum":548}}},
  {"data":{"name":"s"},"transform":[{"filter":"datum.d=='PNW'&&datum.r=='HN'"}],"mark":{"type":"text","align":"right","fontSize":8.5,"lineHeight":9.5},"encoding":{"x":{"datum":0.441},"y":{"datum":724,"axis":{"values":[0,200,400,600,800],"format":"d","labelOverlap":false}},"text":{"field":"t"}}}
 ]},
 {"width":124,"height":116,"layer":[
  {"transform":[{"filter":"datum.d=='STEAD'&&datum.r=='HN'"}],"mark":{"type":"rect","fill":"#3f66ad","stroke":"#111111","strokeWidth":0.9},"encoding":{"x":{"field":"a","type":"quantitative","scale":{"domain":[-0.5,0.5],"nice":false},"axis":{"values":[-0.4,-0.2,0,0.2,0.4],"format":".1f","title":null}},"x2":{"field":"b"},"y":{"field":"n","type":"quantitative","scale":{"domain":[0,800],"nice":false},"axis":{"values":[0,200,400,600,800],"format":"d","labelOverlap":false,"title":null}},"y2":{"datum":0}}},
  {"data":{"name":"s"},"transform":[{"filter":"datum.d=='STEAD'&&datum.r=='HN'"}],"mark":{"type":"rect","fill":"white","stroke":"#999999","strokeWidth":1,"cornerRadius":3},"encoding":{"x":{"datum":-0.06},"x2":{"datum":0.465},"y":{"datum":776,"axis":{"values":[0,200,400,600,800],"format":"d","labelOverlap":false}},"y2":{"datum":548}}},
  {"data":{"name":"s"},"transform":[{"filter":"datum.d=='STEAD'&&datum.r=='HN'"}],"mark":{"type":"text","align":"right","fontSize":8.5,"lineHeight":9.5},"encoding":{"x":{"datum":0.441},"y":{"datum":724,"axis":{"values":[0,200,400,600,800],"format":"d","labelOverlap":false}},"text":{"field":"t"}}}
 ]},
 {"width":124,"height":116,"layer":[
  {"transform":[{"filter":"datum.d=='ETHZ'&&datum.r=='HN'"}],"mark":{"type":"rect","fill":"#3f66ad","stroke":"#111111","strokeWidth":0.9},"encoding":{"x":{"field":"a","type":"quantitative","scale":{"domain":[-0.5,0.5],"nice":false},"axis":{"values":[-0.4,-0.2,0,0.2,0.4],"format":".1f","title":null}},"x2":{"field":"b"},"y":{"field":"n","type":"quantitative","scale":{"domain":[0,800],"nice":false},"axis":{"values":[0,200,400,600,800],"format":"d","labelOverlap":false,"title":null}},"y2":{"datum":0}}},
  {"data":{"name":"s"},"transform":[{"filter":"datum.d=='ETHZ'&&datum.r=='HN'"}],"mark":{"type":"rect","fill":"white","stroke":"#999999","strokeWidth":1,"cornerRadius":3},"encoding":{"x":{"datum":-0.06},"x2":{"datum":0.465},"y":{"datum":776,"axis":{"values":[0,200,400,600,800],"format":"d","labelOverlap":false}},"y2":{"datum":548}}},
  {"data":{"name":"s"},"transform":[{"filter":"datum.d=='ETHZ'&&datum.r=='HN'"}],"mark":{"type":"text","align":"right","fontSize":8.5,"lineHeight":9.5},"encoding":{"x":{"datum":0.441},"y":{"datum":724,"axis":{"values":[0,200,400,600,800],"format":"d","labelOverlap":false}},"text":{"field":"t"}}}
 ]},
 {"width":124,"height":116,"layer":[
  {"transform":[{"filter":"datum.d=='SCEDC'&&datum.r=='HN'"}],"mark":{"type":"rect","fill":"#3f66ad","stroke":"#111111","strokeWidth":0.9},"encoding":{"x":{"field":"a","type":"quantitative","scale":{"domain":[-0.5,0.5],"nice":false},"axis":{"values":[-0.5,-0.25,0,0.25,0.5],"format":".2f","title":null}},"x2":{"field":"b"},"y":{"field":"n","type":"quantitative","scale":{"domain":[0,800],"nice":false},"axis":{"values":[0,200,400,600,800],"format":"d","labelOverlap":false,"title":null}},"y2":{"datum":0}}},
  {"data":{"name":"s"},"transform":[{"filter":"datum.d=='SCEDC'&&datum.r=='HN'"}],"mark":{"type":"rect","fill":"white","stroke":"#999999","strokeWidth":1,"cornerRadius":3},"encoding":{"x":{"datum":-0.06},"x2":{"datum":0.465},"y":{"datum":776,"axis":{"values":[0,200,400,600,800],"format":"d","labelOverlap":false}},"y2":{"datum":548}}},
  {"data":{"name":"s"},"transform":[{"filter":"datum.d=='SCEDC'&&datum.r=='HN'"}],"mark":{"type":"text","align":"right","fontSize":8.5,"lineHeight":9.5},"encoding":{"x":{"datum":0.441},"y":{"datum":724,"axis":{"values":[0,200,400,600,800],"format":"d","labelOverlap":false}},"text":{"field":"t"}}}
 ]},
 {"width":124,"height":116,"layer":[
  {"transform":[{"filter":"datum.d=='INSTANCE'&&datum.r=='HN'"}],"mark":{"type":"rect","fill":"#3f66ad","stroke":"#111111","strokeWidth":0.9},"encoding":{"x":{"field":"a","type":"quantitative","scale":{"domain":[-0.5,0.5],"nice":false},"axis":{"values":[-0.5,-0.25,0,0.25,0.5],"format":".2f","title":null}},"x2":{"field":"b"},"y":{"field":"n","type":"quantitative","scale":{"domain":[0,800],"nice":false},"axis":{"values":[0,200,400,600,800],"format":"d","labelOverlap":false,"title":null}},"y2":{"datum":0}}},
  {"data":{"name":"s"},"transform":[{"filter":"datum.d=='INSTANCE'&&datum.r=='HN'"}],"mark":{"type":"rect","fill":"white","stroke":"#999999","strokeWidth":1,"cornerRadius":3},"encoding":{"x":{"datum":-0.06},"x2":{"datum":0.465},"y":{"datum":776,"axis":{"values":[0,200,400,600,800],"format":"d","labelOverlap":false}},"y2":{"datum":548}}},
  {"data":{"name":"s"},"transform":[{"filter":"datum.d=='INSTANCE'&&datum.r=='HN'"}],"mark":{"type":"text","align":"right","fontSize":8.5,"lineHeight":9.5},"encoding":{"x":{"datum":0.441},"y":{"datum":724,"axis":{"values":[0,200,400,600,800],"format":"d","labelOverlap":false}},"text":{"field":"t"}}}
 ]},
 {"width":124,"height":116,"layer":[
  {"transform":[{"filter":"datum.d=='PNW'&&datum.r=='All'"}],"mark":{"type":"rect","fill":"#c4403f","stroke":"#111111","strokeWidth":0.9},"encoding":{"x":{"field":"a","type":"quantitative","scale":{"domain":[-0.5,0.5],"nice":false},"axis":{"values":[-0.4,-0.2,0,0.2,0.4],"format":".1f","title":"Residual (second)"}},"x2":{"field":"b"},"y":{"field":"n","type":"quantitative","scale":{"domain":[0,2320],"nice":false},"axis":{"values":[0,500,1000,1500,2000],"format":"d","labelOverlap":false,"title":"All channels"}},"y2":{"datum":0}}},
  {"data":{"name":"s"},"transform":[{"filter":"datum.d=='PNW'&&datum.r=='All'"}],"mark":{"type":"rect","fill":"white","stroke":"#999999","strokeWidth":1,"cornerRadius":3},"encoding":{"x":{"datum":-0.06},"x2":{"datum":0.465},"y":{"datum":2250,"axis":{"values":[0,500,1000,1500,2000],"format":"d","labelOverlap":false}},"y2":{"datum":1590}}},
  {"data":{"name":"s"},"transform":[{"filter":"datum.d=='PNW'&&datum.r=='All'"}],"mark":{"type":"text","align":"right","fontSize":8.5,"lineHeight":9.5},"encoding":{"x":{"datum":0.441},"y":{"datum":2100,"axis":{"values":[0,500,1000,1500,2000],"format":"d","labelOverlap":false}},"text":{"field":"t"}}}
 ]},
 {"width":124,"height":116,"layer":[
  {"transform":[{"filter":"datum.d=='STEAD'&&datum.r=='All'"}],"mark":{"type":"rect","fill":"#3f66ad","stroke":"#111111","strokeWidth":0.9},"encoding":{"x":{"field":"a","type":"quantitative","scale":{"domain":[-0.5,0.5],"nice":false},"axis":{"values":[-0.4,-0.2,0,0.2,0.4],"format":".1f","title":"Residual (second)"}},"x2":{"field":"b"},"y":{"field":"n","type":"quantitative","scale":{"domain":[0,2320],"nice":false},"axis":{"values":[0,500,1000,1500,2000],"format":"d","labelOverlap":false,"title":null}},"y2":{"datum":0}}},
  {"data":{"name":"s"},"transform":[{"filter":"datum.d=='STEAD'&&datum.r=='All'"}],"mark":{"type":"rect","fill":"white","stroke":"#999999","strokeWidth":1,"cornerRadius":3},"encoding":{"x":{"datum":-0.06},"x2":{"datum":0.465},"y":{"datum":2250,"axis":{"values":[0,500,1000,1500,2000],"format":"d","labelOverlap":false}},"y2":{"datum":1590}}},
  {"data":{"name":"s"},"transform":[{"filter":"datum.d=='STEAD'&&datum.r=='All'"}],"mark":{"type":"text","align":"right","fontSize":8.5,"lineHeight":9.5},"encoding":{"x":{"datum":0.441},"y":{"datum":2100,"axis":{"values":[0,500,1000,1500,2000],"format":"d","labelOverlap":false}},"text":{"field":"t"}}}
 ]},
 {"width":124,"height":116,"layer":[
  {"transform":[{"filter":"datum.d=='ETHZ'&&datum.r=='All'"}],"mark":{"type":"rect","fill":"#3f66ad","stroke":"#111111","strokeWidth":0.9},"encoding":{"x":{"field":"a","type":"quantitative","scale":{"domain":[-0.5,0.5],"nice":false},"axis":{"values":[-0.4,-0.2,0,0.2,0.4],"format":".1f","title":"Residual (second)"}},"x2":{"field":"b"},"y":{"field":"n","type":"quantitative","scale":{"domain":[0,2320],"nice":false},"axis":{"values":[0,500,1000,1500,2000],"format":"d","labelOverlap":false,"title":null}},"y2":{"datum":0}}},
  {"data":{"name":"s"},"transform":[{"filter":"datum.d=='ETHZ'&&datum.r=='All'"}],"mark":{"type":"rect","fill":"white","stroke":"#999999","strokeWidth":1,"cornerRadius":3},"encoding":{"x":{"datum":-0.06},"x2":{"datum":0.465},"y":{"datum":2250,"axis":{"values":[0,500,1000,1500,2000],"format":"d","labelOverlap":false}},"y2":{"datum":1590}}},
  {"data":{"name":"s"},"transform":[{"filter":"datum.d=='ETHZ'&&datum.r=='All'"}],"mark":{"type":"text","align":"right","fontSize":8.5,"lineHeight":9.5},"encoding":{"x":{"datum":0.441},"y":{"datum":2100,"axis":{"values":[0,500,1000,1500,2000],"format":"d","labelOverlap":false}},"text":{"field":"t"}}}
 ]},
 {"width":124,"height":116,"layer":[
  {"transform":[{"filter":"datum.d=='SCEDC'&&datum.r=='All'"}],"mark":{"type":"rect","fill":"#3f66ad","stroke":"#111111","strokeWidth":0.9},"encoding":{"x":{"field":"a","type":"quantitative","scale":{"domain":[-0.5,0.5],"nice":false},"axis":{"values":[-0.5,-0.25,0,0.25,0.5],"format":".2f","title":"Residual (second)"}},"x2":{"field":"b"},"y":{"field":"n","type":"quantitative","scale":{"domain":[0,2320],"nice":false},"axis":{"values":[0,500,1000,1500,2000],"format":"d","labelOverlap":false,"title":null}},"y2":{"datum":0}}},
  {"data":{"name":"s"},"transform":[{"filter":"datum.d=='SCEDC'&&datum.r=='All'"}],"mark":{"type":"rect","fill":"white","stroke":"#999999","strokeWidth":1,"cornerRadius":3},"encoding":{"x":{"datum":-0.06},"x2":{"datum":0.465},"y":{"datum":2250,"axis":{"values":[0,500,1000,1500,2000],"format":"d","labelOverlap":false}},"y2":{"datum":1590}}},
  {"data":{"name":"s"},"transform":[{"filter":"datum.d=='SCEDC'&&datum.r=='All'"}],"mark":{"type":"text","align":"right","fontSize":8.5,"lineHeight":9.5},"encoding":{"x":{"datum":0.441},"y":{"datum":2100,"axis":{"values":[0,500,1000,1500,2000],"format":"d","labelOverlap":false}},"text":{"field":"t"}}}
 ]},
 {"width":124,"height":116,"layer":[
  {"transform":[{"filter":"datum.d=='INSTANCE'&&datum.r=='All'"}],"mark":{"type":"rect","fill":"#3f66ad","stroke":"#111111","strokeWidth":0.9},"encoding":{"x":{"field":"a","type":"quantitative","scale":{"domain":[-0.5,0.5],"nice":false},"axis":{"values":[-0.5,-0.25,0,0.25,0.5],"format":".2f","title":"Residual (second)"}},"x2":{"field":"b"},"y":{"field":"n","type":"quantitative","scale":{"domain":[0,2320],"nice":false},"axis":{"values":[0,500,1000,1500,2000],"format":"d","labelOverlap":false,"title":null}},"y2":{"datum":0}}},
  {"data":{"name":"s"},"transform":[{"filter":"datum.d=='INSTANCE'&&datum.r=='All'"}],"mark":{"type":"rect","fill":"white","stroke":"#999999","strokeWidth":1,"cornerRadius":3},"encoding":{"x":{"datum":-0.06},"x2":{"datum":0.465},"y":{"datum":2250,"axis":{"values":[0,500,1000,1500,2000],"format":"d","labelOverlap":false}},"y2":{"datum":1590}}},
  {"data":{"name":"s"},"transform":[{"filter":"datum.d=='INSTANCE'&&datum.r=='All'"}],"mark":{"type":"text","align":"right","fontSize":8.5,"lineHeight":9.5},"encoding":{"x":{"datum":0.441},"y":{"datum":2100,"axis":{"values":[0,500,1000,1500,2000],"format":"d","labelOverlap":false}},"text":{"field":"t"}}}
 ]}
]
}
